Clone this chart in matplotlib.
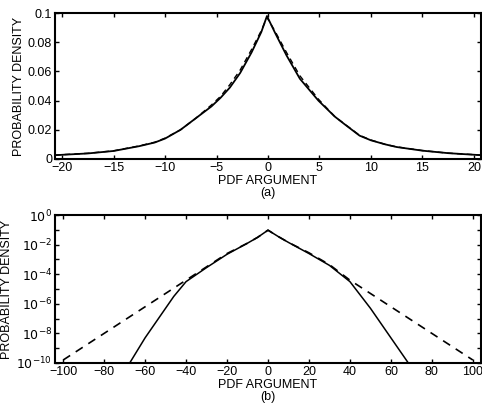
import matplotlib
matplotlib.use("Agg")
import matplotlib.pyplot as plt
from matplotlib.ticker import NullFormatter
import numpy as np

# (a) linear-scale pdf
x_a = [-20.7, -17.5, -15, -12.5, -11, -10, -8.5, -7, -5.5, -4.6, -3.7, -2.7,
       -1.6, -0.65, -0.1, 0.65, 1.8, 3.1, 4.9, 6.5, 7.5, 8.9, 10, 11.4, 12.5,
       15, 17.5, 20.7]
pdf_a_solid = [0.0026, 0.0038, 0.0055, 0.0088, 0.0113, 0.014, 0.020, 0.028,
               0.036, 0.042, 0.049, 0.059, 0.073, 0.087, 0.098, 0.087, 0.071,
               0.055, 0.040, 0.029, 0.0235, 0.0160, 0.0128, 0.0100, 0.0082,
               0.0057, 0.0040, 0.0026]
pdf_a_dashed = [0.0027, 0.0039, 0.0056, 0.0090, 0.0115, 0.0143, 0.020, 0.028,
                0.037, 0.043, 0.051, 0.061, 0.075, 0.088, 0.097, 0.088, 0.073,
                0.057, 0.041, 0.029, 0.0237, 0.0162, 0.0130, 0.0100, 0.0083,
                0.0058, 0.0040, 0.0027]

# (b) log-scale pdf (log10 values)
x_b_solid = [-67.5, -60, -50, -46, -40, -30, -20, -10, -5, 0, 5, 10, 20, 30,
             40, 50, 60, 68.5]
log_b_solid = [-10, -8.3, -6.3, -5.5, -4.5, -3.55, -2.65, -1.9, -1.5, -1.02,
               -1.45, -1.85, -2.6, -3.4, -4.5, -6.3, -8.3, -10]
x_b_dashed = [-100, -40, -30, -20, -10, -5, 0, 5, 10, 20, 30, 40, 100]
log_b_dashed = [-9.8, -4.4, -3.5, -2.6, -1.9, -1.5, -1.02, -1.45, -1.85,
                -2.55, -3.35, -4.4, -9.8]

plt.rcParams["font.family"] = ["Liberation Sans", "DejaVu Sans"]
plt.rcParams["font.size"] = 9
plt.rcParams["xtick.direction"] = "in"
plt.rcParams["ytick.direction"] = "in"

fig = plt.figure(figsize=(4.82, 4.03), dpi=100)
ax1 = fig.add_axes([0.114, 0.6055, 0.884, 0.362])
ax2 = fig.add_axes([0.114, 0.0993, 0.884, 0.367])

ax1.plot(x_a, pdf_a_solid, "k-", lw=1.3)
ax1.plot(x_a, pdf_a_dashed, "k--", lw=1.0, dashes=(4, 3))
ax1.set_xlim(-20.7, 20.7)
ax1.set_ylim(0, 0.1)
ax1.set_xticks(np.arange(-20, 21, 5))
ax1.set_yticks([0, 0.02, 0.04, 0.06, 0.08, 0.1])
ax1.set_yticklabels(["0", "0.02", "0.04", "0.06", "0.08", "0.1"])
ax1.set_xlabel("PDF ARGUMENT\n(a)", labelpad=1, linespacing=0.95)
ax1.set_ylabel("PROBABILITY DENSITY", labelpad=2)

ax2.semilogy(x_b_solid, np.power(10.0, log_b_solid), "k-", lw=1.1)
ax2.semilogy(x_b_dashed, np.power(10.0, log_b_dashed), "k--", lw=1.2,
             dashes=(5, 4))
ax2.set_xlim(-104, 104)
ax2.set_ylim(1e-10, 1)
ax2.set_xticks(np.arange(-100, 101, 20))
ax2.set_yticks([10.0 ** k for k in range(-10, 1)], minor=True)
ax2.yaxis.set_minor_formatter(NullFormatter())
ax2.set_yticks([10.0 ** k for k in range(-10, 1, 2)])
ax2.set_yticklabels([r"$10^{%d}$" % k for k in range(-10, 1, 2)])
ax2.set_xlabel("PDF ARGUMENT\n(b)", labelpad=1, linespacing=0.95)
ax2.set_ylabel("PROBABILITY DENSITY", labelpad=2)

for ax in (ax1, ax2):
    ax.tick_params(which="both", top=True, right=True, length=3, width=1,
                   pad=2)
    ax.tick_params(which="minor", length=3)
    for s in ax.spines.values():
        s.set_linewidth(1.5)

fig.savefig("out.png", dpi=100)
